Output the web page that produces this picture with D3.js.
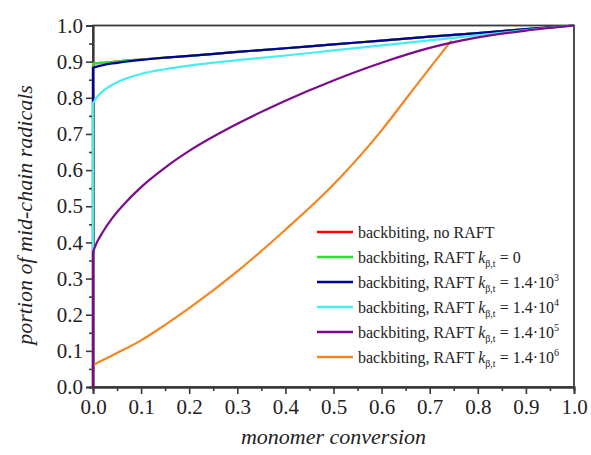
<!DOCTYPE html>
<html><head><meta charset="utf-8">
<script src="https://cdn.jsdelivr.net/npm/d3@7"></script>
<style>
body{margin:0;background:#fff}
text{font-family:"Liberation Serif","Times New Roman",serif;fill:#222}
</style>
</head><body>
<svg id="chart" width="591" height="455"></svg>
<script>
// ---- data ----
const seriesLabels = ["no RAFT", "0", "3", "4", "5", "6"];
const seriesColors = ["#ff0000", "#33dd33", "#000099", "#44eef2", "#7d0a8c", "#f5861f"];

const conv = [0, 0.01, 0.02, 0.04, 0.062, 0.1, 0.15, 0.2, 0.3, 0.4, 0.5, 0.6, 0.7, 0.8, 0.9, 1.0];
const noRaft   = [0.895, 0.896, 0.897, 0.899, 0.902, 0.906, 0.911, 0.916, 0.927, 0.937, 0.948, 0.958, 0.969, 0.979, 0.990, 1.0];
const raft0    = [0.895, 0.896, 0.897, 0.899, 0.902, 0.906, 0.911, 0.916, 0.927, 0.937, 0.948, 0.958, 0.969, 0.979, 0.990, 1.0];
const raft1e3  = [0.883, 0.887, 0.890, 0.895, 0.899, 0.905, 0.911, 0.916, 0.927, 0.937, 0.948, 0.958, 0.969, 0.979, 0.990, 1.0];
const raft1e4  = [0.785, 0.805, 0.818, 0.836, 0.850, 0.866, 0.879, 0.889, 0.904, 0.917, 0.931, 0.945, 0.959, 0.973, 0.987, 1.0];
const raft1e5  = [0.374, 0.405, 0.428, 0.467, 0.502, 0.553, 0.607, 0.653, 0.728, 0.792, 0.848, 0.897, 0.938, 0.967, 0.986, 1.0];
const convOrange = [0, 0.05, 0.1, 0.15, 0.2, 0.3, 0.4, 0.5, 0.6, 0.65, 0.7, 0.745];
const raft1e6    = [0.061, 0.094, 0.129, 0.172, 0.218, 0.32, 0.435, 0.56, 0.71, 0.796, 0.882, 0.958];

const xTickValues = [0, 0.1, 0.2, 0.3, 0.4, 0.5, 0.6, 0.7, 0.8, 0.9, 1.0];
const yTickValues = [0, 0.1, 0.2, 0.3, 0.4, 0.5, 0.6, 0.7, 0.8, 0.9, 1.0];
const minorTickValues = [0.05, 0.15, 0.25, 0.35, 0.45, 0.55, 0.65, 0.75, 0.85, 0.95];

const series = [
  {x: conv, y: noRaft,  c: seriesColors[0]},
  {x: conv, y: raft0,   c: seriesColors[1]},
  {x: conv, y: raft1e3, c: seriesColors[2]},
  {x: conv, y: raft1e4, c: seriesColors[3]},
  {x: convOrange, y: raft1e6, c: seriesColors[5]},
  {x: conv, y: raft1e5, c: seriesColors[4]}
];

// ---- layout ----
const svg = d3.select("#chart");
const L = 93, R = 574, T = 25.5, B = 387;
const x = d3.scaleLinear().domain([0, 1]).range([L, R]);
const y = d3.scaleLinear().domain([0, 1]).range([B, T]);

// frame
svg.append("rect").attr("x", L).attr("y", T).attr("width", R - L).attr("height", B - T)
  .attr("fill", "none").attr("stroke", "#3a3a3a").attr("stroke-width", 1.8);

// axes
const fmt = d3.format(".1f");
const xAxis = svg.append("g").attr("transform", `translate(0,${B})`)
  .call(d3.axisBottom(x).tickValues(xTickValues).tickFormat(fmt).tickSize(7).tickPadding(5));
const xMinor = svg.append("g").attr("transform", `translate(0,${B})`)
  .call(d3.axisBottom(x).tickValues(minorTickValues).tickFormat("").tickSize(4));
const yAxis = svg.append("g").attr("transform", `translate(${L},0)`)
  .call(d3.axisLeft(y).tickValues(yTickValues).tickFormat(fmt).tickSize(7).tickPadding(3));
const yMinor = svg.append("g").attr("transform", `translate(${L},0)`)
  .call(d3.axisLeft(y).tickValues(minorTickValues).tickFormat("").tickSize(4));
[xAxis, xMinor, yAxis, yMinor].forEach(g => {
  g.select(".domain").attr("stroke", "#3a3a3a").attr("stroke-width", 1.8);
  g.selectAll(".tick line").attr("stroke", "#3a3a3a").attr("stroke-width", 1.6);
  g.selectAll("text").attr("font-family", "Liberation Serif").attr("font-size", 21).attr("fill", "#222");
});

// curves
const vLine = d3.line().x(d => x(d[0])).y(d => y(d[1]));
const cLine = d3.line().x(d => x(d[0])).y(d => y(d[1])).curve(d3.curveMonotoneX);
series.forEach(s => {
  const pts = s.x.map((v, i) => [v, s.y[i]]);
  const path = vLine([[0, 0], pts[0]]) + cLine(pts).replace(/^M/, "L");
  svg.append("path").attr("d", path).attr("fill", "none")
    .attr("stroke", s.c).attr("stroke-width", 2.2).attr("stroke-linejoin", "round");
});

// legend
const legY0 = 232, legDy = 25, legX1 = 317, legX2 = 353, legTx = 358;
seriesLabels.forEach((lab, i) => {
  const yy = legY0 + i * legDy;
  svg.append("line").attr("x1", legX1).attr("x2", legX2).attr("y1", yy).attr("y2", yy)
    .attr("stroke", seriesColors[i]).attr("stroke-width", 2.5);
  const t = svg.append("text").attr("x", legTx).attr("y", yy + 5.5).attr("font-size", 16);
  if (i === 0) {
    t.text("backbiting, no RAFT");
  } else {
    t.append("tspan").text("backbiting, RAFT ");
    t.append("tspan").attr("font-style", "italic").text("k");
    t.append("tspan").attr("font-size", 10).attr("dy", 4).text("β,t");
    if (lab === "0") {
      t.append("tspan").attr("dy", -4).text(" = 0");
    } else {
      t.append("tspan").attr("dy", -4).text(" = 1.4·10");
      t.append("tspan").attr("font-size", 10).attr("dy", -7).text(lab);
    }
  }
});

// axis titles
svg.append("text").attr("x", (L + R) / 2).attr("y", 444).attr("text-anchor", "middle")
  .attr("font-size", 22).attr("font-style", "italic").text("monomer conversion");
svg.append("text").attr("transform", "translate(32,215) rotate(-90)").attr("text-anchor", "middle")
  .attr("font-size", 22).attr("font-style", "italic").text("portion of mid-chain radicals");
</script>
</body></html>
